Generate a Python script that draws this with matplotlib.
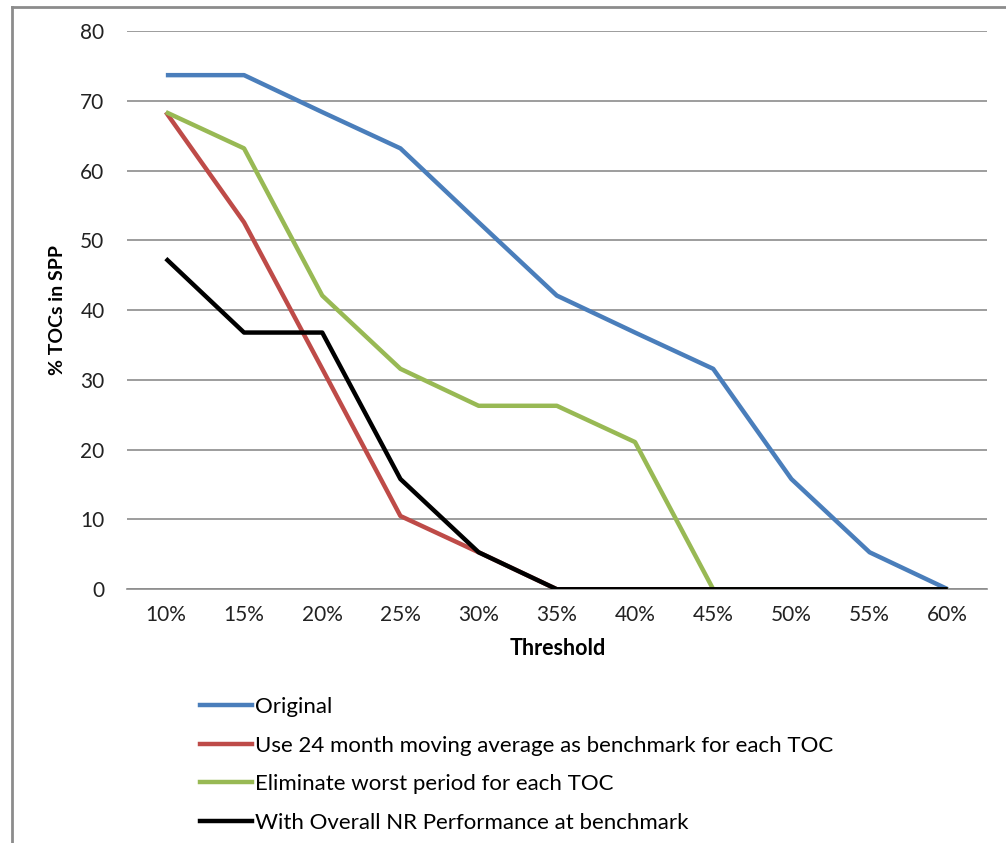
import matplotlib
matplotlib.use("Agg")
import matplotlib.pyplot as plt
from matplotlib.lines import Line2D

thresholds = ["10%", "15%", "20%", "25%", "30%", "35%", "40%", "45%", "50%", "55%", "60%"]

original = [73.7, 73.7, 68.4, 63.2, 52.6, 42.1, 36.8, 31.6, 15.8, 5.3, 0]
moving_avg = [68.4, 52.6, 31.6, 10.5, 5.3, 0, 0, 0, 0, 0, 0]
drop_worst = [68.4, 63.2, 42.1, 31.6, 26.3, 26.3, 21.1, 0, 0, 0, 0]
overall_nr = [47.4, 36.8, 36.8, 15.8, 5.3, 0, 0, 0, 0, 0, 0]

series = [
    ("Original", original, "#4a7ebb"),
    ("Use 24 month moving average as benchmark for each TOC", moving_avg, "#be4b48"),
    ("Eliminate worst period for each TOC", drop_worst, "#98b954"),
    ("With Overall NR Performance at benchmark", overall_nr, "#000000"),
]

plt.rcParams["font.family"] = ["Lato", "DejaVu Sans"]

fig = plt.figure(figsize=(10.06, 8.43), dpi=100)
ax = fig.add_axes([0.126, 0.301, 0.855, 0.662])

x = list(range(len(thresholds)))
for name, vals, col in series:
    ax.plot(x, vals, color=col, lw=3.2, label=name, solid_capstyle="butt", zorder=3)

ax.set_xlim(-0.5, len(thresholds) - 0.5)
ax.set_ylim(0, 80)
ax.set_yticks(range(0, 81, 10))
ax.set_xticks(x)
ax.set_xticklabels(thresholds)
ax.grid(axis="y", color="#8c8c8c", lw=1.2)
ax.set_axisbelow(True)
for s in ["left", "right", "top"]:
    ax.spines[s].set_visible(False)
ax.spines["bottom"].set_color("#8c8c8c")
ax.spines["bottom"].set_linewidth(1.2)
ax.tick_params(length=0, labelsize=15, colors="#222222", pad=11)
ax.tick_params(axis="y", pad=16)

fig.text(0.057, 0.632, "% TOCs in SPP", rotation=90, ha="center", va="center",
         fontsize=14, fontweight="bold")
fig.text(0.554, 0.231, "Threshold", ha="center", va="center",
         fontsize=15.5, fontweight="bold")

handles = [Line2D([], [], color=c, lw=3.2) for _, _, c in series]
labels = [n for n, _, _ in series]
fig.legend(handles, labels, loc="upper left", bbox_to_anchor=(0.179, 0.197),
           frameon=False, handlelength=2.35, handletextpad=0.1, labelspacing=0.84,
           prop={"size": 16})

# outer frame, open on the right and bottom
fig.add_artist(Line2D([0.012, 0.012], [0, 0.992], transform=fig.transFigure,
                      color="#8c8c8c", lw=2))
fig.add_artist(Line2D([0.012, 1.0], [0.992, 0.992], transform=fig.transFigure,
                      color="#8c8c8c", lw=2))

fig.savefig("out.png", dpi=100)
